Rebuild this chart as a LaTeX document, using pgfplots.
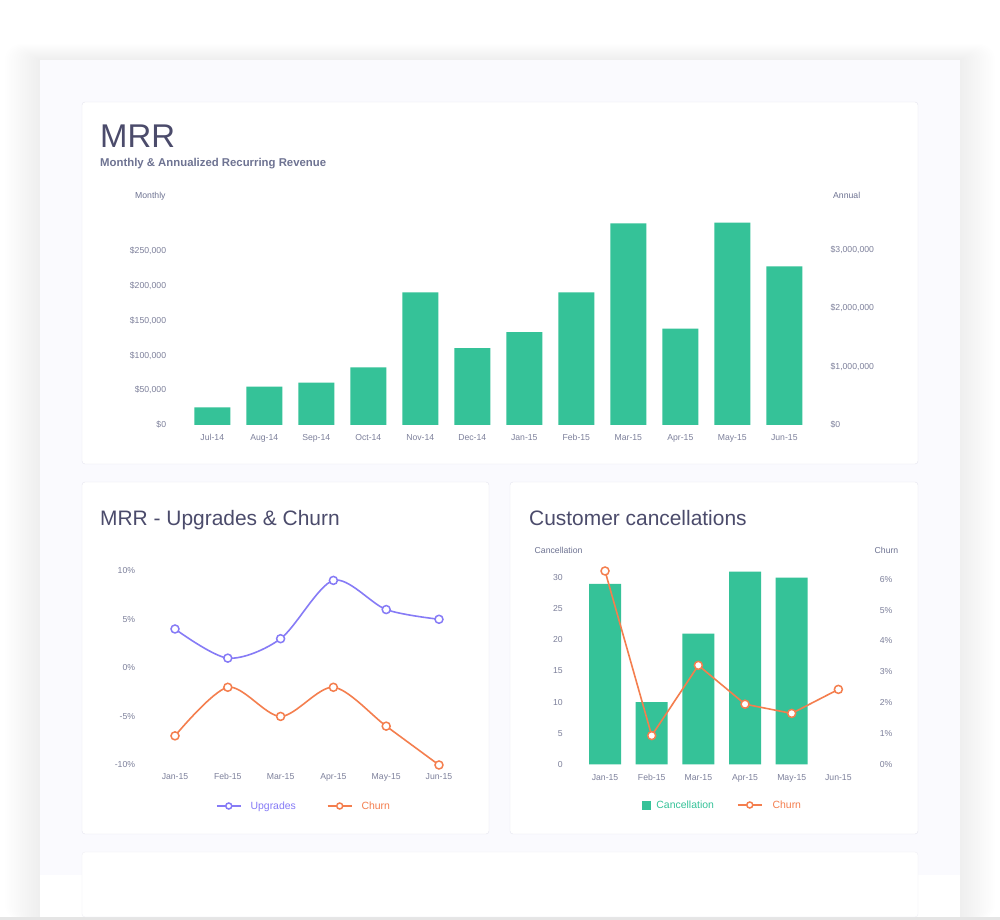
\documentclass[border=0pt]{standalone}
\usepackage{pgfplots}
\pgfplotsset{compat=1.18}
\usepackage{fontspec}
\setmainfont{Liberation Sans}
\definecolor{mgreen}{HTML}{35C298}
\definecolor{mpurple}{HTML}{867BF6}
\definecolor{morange}{HTML}{F47E4E}
\definecolor{ttl}{HTML}{4B4B6B}
\definecolor{sub}{HTML}{6E7392}
\definecolor{tickc}{HTML}{7D809B}
\definecolor{cardbg}{HTML}{FAFAFE}
\definecolor{pborder}{HTML}{E5E5EF}
\newcommand{\fs}[1]{\fontsize{#1}{#1}\selectfont}
\pgfplotsset{
  dash/.style={scale only axis, axis line style={draw=none}, tick style={draw=none},
    major tick length=0pt, ticklabel style={font=\fs{8.7}, text=tickc}, clip=false,
    scaled y ticks=false, scaled x ticks=false,
    /pgf/number format/assume math mode=true,
    xticklabel style={text height=6.3bp, text depth=0bp}},
  lineleg/.style={legend image code/.code={
    \draw[##1, mark size=3bp, mark repeat=2, mark phase=2] plot coordinates {(0bp,0bp) (12bp,0bp) (24bp,0bp)};}},
}
\begin{document}
\begin{tikzpicture}
\useasboundingbox (0,0) rectangle (1000bp,920bp);
\fill[white] (0,0) rectangle (1000bp,920bp);
% shadow
\foreach \d in {1,...,16} {
  \fill[black, opacity=0.0045, rounded corners=\d bp] ({40bp-\d*2.2bp},0) rectangle ({960bp+\d*2.2bp},{860bp+\d*1bp});
}
\fill[cardbg] (40bp,0) rectangle (960bp,860bp);
\fill[white] (40bp,3bp) rectangle (960bp,45bp);
\fill[black!10] (0,0) rectangle (1000bp,3bp);
% panels
\draw[pborder, fill=white, rounded corners=3bp] (82bp,456bp) rectangle (918bp,818bp);
\draw[pborder, fill=white, rounded corners=3bp] (82bp,86bp) rectangle (489bp,438bp);
\draw[pborder, fill=white, rounded corners=3bp] (510bp,86bp) rectangle (918bp,438bp);
\draw[pborder!60, fill=white, rounded corners=3bp] (82bp,3bp) rectangle (918bp,68bp);
% titles
\node[anchor=base west, inner sep=0, font=\fs{33}, text=ttl] at (100bp,772bp) {MRR};
\node[anchor=base west, inner sep=0, font=\bfseries\fs{11.4}, text=sub] at (100bp,753.5bp) {Monthly \& Annualized Recurring Revenue};
\node[anchor=base west, inner sep=0, font=\fs{8.7}, text=sub] at (135bp,721bp) {Monthly};
\node[anchor=base west, inner sep=0, font=\fs{8.7}, text=sub] at (833bp,721bp) {Annual};
\node[anchor=base west, inner sep=0, font=\fs{21}, text=ttl] at (100bp,394.5bp) {MRR - Upgrades \& Churn};
\node[anchor=base west, inner sep=0, font=\fs{21}, text=ttl] at (529bp,394.5bp) {Customer cancellations};
\node[anchor=base west, inner sep=0, font=\fs{8.7}, text=sub] at (534.5bp,366bp) {Cancellation};
\node[anchor=base west, inner sep=0, font=\fs{8.7}, text=sub] at (874.5bp,366bp) {Churn};

% ---------- MRR top chart ----------
\begin{axis}[dash, at={(180.3bp,495bp)}, anchor=south west, width=636bp, height=208.8bp,
  xmin=-0.615, xmax=11.615, ymin=0, ymax=300000,
  ybar, bar width=36bp,
  xtick={0,...,11},
  xticklabels={Jul-14,Aug-14,Sep-14,Oct-14,Nov-14,Dec-14,Jan-15,Feb-15,Mar-15,Apr-15,May-15,Jun-15},
  xticklabel style={yshift=-6bp},
  ytick={0,50000,100000,150000,200000,250000},
  yticklabels={{\$0},{\$50,000},{\$100,000},{\$150,000},{\$200,000},{\$250,000}},
  yticklabel style={xshift=-10.7bp}]
\addplot[fill=mgreen, draw=none] coordinates {
 (0,25400) (1,55000) (2,60800) (3,82900) (4,190700) (5,110600)
 (6,133600) (7,190700) (8,289800) (9,138400) (10,290700) (11,228000)};
\end{axis}
\begin{axis}[dash, at={(180.3bp,495bp)}, anchor=south west, width=636bp, height=208.8bp,
  xmin=-0.615, xmax=11.615, ymin=0, ymax=3580000,
  axis y line*=right, hide x axis,
  ytick={0,1000000,2000000,3000000},
  yticklabels={{\$0},{\$1,000,000},{\$2,000,000},{\$3,000,000}},
  yticklabel style={anchor=west, xshift=10.8bp}]
\addplot[draw=none] coordinates {(0,0)};
\end{axis}

% ---------- Upgrades & Churn ----------
\begin{axis}[dash, at={(148.6bp,155bp)}, anchor=south west, width=316.8bp, height=194.3bp,
  xmin=-0.5, xmax=5.5, ymin=-10, ymax=10,
  xtick={0,...,5}, xticklabels={Jan-15,Feb-15,Mar-15,Apr-15,May-15,Jun-15},
  xticklabel style={yshift=-5bp},
  ytick={-10,-5,0,5,10}, yticklabels={-10\%,-5\%,0\%,5\%,10\%},
  yticklabel style={xshift=-10bp},
  lineleg,
  legend columns=2,
  legend style={at={(0.4905,-0.211)}, anchor=center, draw=none, fill=none,
    font=\fs{10.5},
    /tikz/every odd column/.append style={column sep=7bp},
    /tikz/every even column/.append style={column sep=29bp}}]
\addplot[mpurple, line width=1.6bp, smooth, tension=0.5, mark=*, mark size=4bp,
  mark options={fill=white, line width=1.5bp}] coordinates {
  (0,4) (1,1) (2,3) (3,9) (4,6) (5,5)};
\addlegendentry{\textcolor{mpurple}{Upgrades}}
\addplot[morange, line width=1.6bp, smooth, tension=0.5, mark=*, mark size=4bp,
  mark options={fill=white, line width=1.5bp}] coordinates {
  (0,-7) (1,-2) (2,-5) (3,-2) (4,-6) (5,-10)};
\addlegendentry{\textcolor{morange}{Churn}}
\end{axis}

% ---------- Customer cancellations ----------
\begin{axis}[dash, at={(581.7bp,155.7bp)}, anchor=south west, width=280bp, height=199bp,
  xmin=-0.5, xmax=5.5, ymin=0, ymax=32,
  ybar, bar width=32bp,
  xtick={0,...,5}, xticklabels={Jan-15,Feb-15,Mar-15,Apr-15,May-15,Jun-15},
  xticklabel style={yshift=-6bp},
  ytick={0,5,10,15,20,25,30},
  yticklabel style={xshift=-15.5bp}]
\addplot[fill=mgreen, draw=none] coordinates {(0,29) (1,10) (2,21) (3,31) (4,30)};
\end{axis}
\begin{axis}[dash, at={(581.7bp,155.7bp)}, anchor=south west, width=280bp, height=199bp,
  xmin=-0.5, xmax=5.5, ymin=0, ymax=6.455,
  axis y line*=right, hide x axis,
  ytick={0,1,2,3,4,5,6}, yticklabels={0\%,1\%,2\%,3\%,4\%,5\%,6\%},
  yticklabel style={anchor=west, xshift=14.7bp},
  lineleg,
  legend columns=2,
  legend style={at={(0.503,-0.2045)}, anchor=center, draw=none, fill=none,
    font=\fs{10.5},
    /tikz/every odd column/.append style={column sep=8bp},
    /tikz/every even column/.append style={column sep=21bp}}]
\addlegendimage{legend image code/.code={\fill[mgreen] (0bp,-4bp) rectangle (4bp,4bp); \fill[mgreen, overlay] (3.9bp,-4bp) rectangle (8bp,4bp);}}
\addlegendentry{\textcolor{mgreen}{Cancellation}}
\addplot[morange, line width=1.6bp, mark=*, mark size=4bp,
  mark options={fill=white, line width=1.5bp}] coordinates {
  (0,6.27) (1,0.93) (2,3.21) (3,1.95) (4,1.65) (5,2.43)};
\addlegendentry{\textcolor{morange}{Churn}}
\end{axis}
\end{tikzpicture}
\end{document}
